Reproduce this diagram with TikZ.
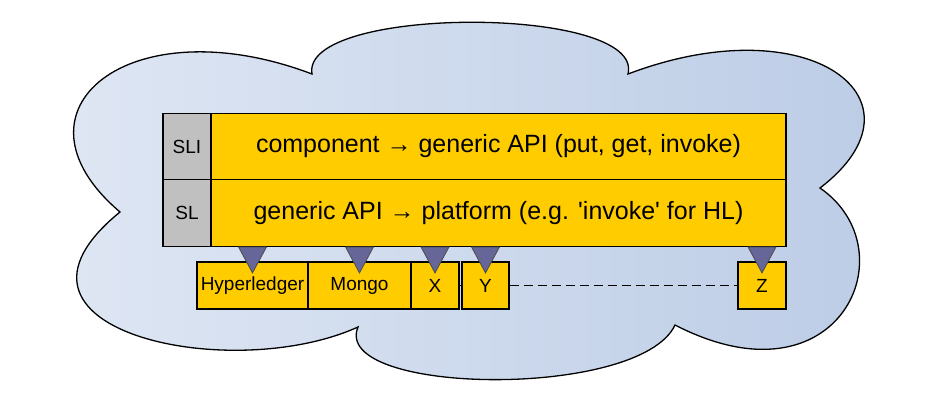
\documentclass[tikz,border=0pt]{standalone}
\usepackage{fontspec}
\setmainfont{Liberation Sans}
\usepackage{tikz}
\definecolor{cloudleft}{RGB}{226,233,245}
\definecolor{cloudright}{RGB}{186,203,229}
\definecolor{layerfill}{RGB}{255,204,0}
\definecolor{tagfill}{RGB}{192,192,192}
\definecolor{tickfill}{RGB}{102,102,153}
\tikzset{tick/.pic={
	\filldraw[fill=tickfill, draw=black!70, line width=0.8pt] (-14,0) -- (14,0) -- (0,26) -- cycle;
}}

\begin{document}
\begin{tikzpicture}[x=1pt, y=-1pt,
	layer/.style={draw, line width=1.3pt, inner sep=0pt, fill=layerfill, minimum width=575pt, minimum height=66.5pt, font=\fontsize{25}{28}\selectfont},
	tag/.style={draw, line width=1.3pt, inner sep=0pt, fill=tagfill, minimum width=48pt, minimum height=66.5pt, font=\fontsize{19}{21}\selectfont},
	platform/.style={draw, line width=1.3pt, inner sep=0pt, fill=layerfill, minimum height=47pt, font=\fontsize{19}{21}\selectfont}]
\useasboundingbox (0,0) rectangle (939,400);
\shade[draw, line width=1.3pt, left color=cloudleft, right color=cloudright]
	(120,212) .. controls (0,110) and (130,5) .. (312,74)
	.. controls (300,5) and (645,5) .. (628,74)
	.. controls (810,5) and (935,100) .. (820,188)
	.. controls (910,250) and (840,410) .. (675,325)
	.. controls (640,400) and (330,395) .. (358,327)
	.. controls (230,385) and (-25,330) .. (120,212) -- cycle;

\node[tag] (sli) at (187,146.5) {SLI};
\node[tag] (sl) at (187,213) {SL};
\node[layer] (comp) at (498.5,146.5) {component → generic API (put, get, invoke)};
\node[layer] (plat) at (498.5,213) {generic API → platform (e.g. \textquotesingle invoke\textquotesingle{} for HL)};

\node[platform, minimum width=111pt] (hl) at (252.5,285.5) {Hyperledger};
\node[platform, minimum width=103pt] (mongo) at (359.5,285.5) {Mongo};
\node[platform, minimum width=48pt] (px) at (435,285.5) {X};
\node[platform, minimum width=47pt] (py) at (485.5,285.5) {Y};
\node[platform, minimum width=48pt] (pz) at (762,285.5) {Z};

\draw[line width=1.3pt] (px) -- (py);
\draw[line width=1.3pt, dash pattern=on 9pt off 5pt] (py) -- (pz);

\foreach \p in {hl, mongo, px, py, pz}
	\pic at (\p.north |- plat.south) {tick};
\end{tikzpicture}
\end{document}
